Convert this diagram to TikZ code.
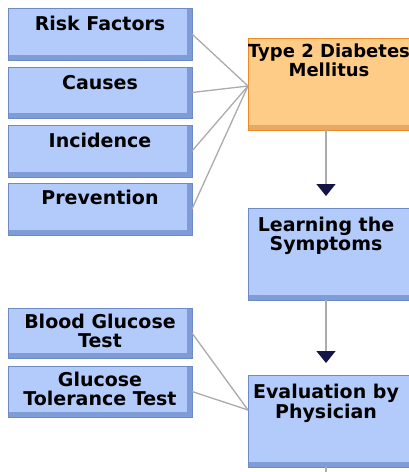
\documentclass[tikz,border=0pt]{standalone}
\usepackage{fontspec}
\setmainfont{DejaVu Sans}
\usetikzlibrary{arrows.meta}

\definecolor{boxfill}{HTML}{B3CBFB}
\definecolor{boxbevel}{HTML}{809CD6}
\definecolor{boxedge}{HTML}{6C8AC6}
\definecolor{topicfill}{HTML}{FFCC88}
\definecolor{topicbevel}{HTML}{E6A866}
\definecolor{topicedge}{HTML}{EE8A22}
\definecolor{linkgray}{HTML}{ABABAB}
\definecolor{tipnavy}{HTML}{141446}

\tikzset{
  card/.style={rectangle, anchor=north west, inner sep=0pt, outer sep=0pt,
    line width=1pt, minimum width=#1},
  card/.default=184pt,
  bluecard/.style={card=#1, fill=boxfill, draw=boxedge,
    path picture={
      \fill[boxbevel] ([yshift=5pt]path picture bounding box.south west)
        rectangle (path picture bounding box.south east);
      \fill[boxbevel] ([xshift=-5pt]path picture bounding box.north east)
        rectangle (path picture bounding box.south east);
    }},
  bluecard/.default=184pt,
  topiccard/.style={card=#1, fill=topicfill, draw=topicedge,
    path picture={
      \fill[topicbevel] ([yshift=5pt]path picture bounding box.south west)
        rectangle (path picture bounding box.south east);
    }},
  label text/.style={anchor=north, inner sep=0pt, align=center,
    font=\fontsize{19}{18.5}\selectfont\bfseries},
  link/.style={draw=linkgray, line width=1.3pt},
  flow/.style={draw=linkgray, line width=1.5pt,
    -{Triangle[width=19pt,length=12pt,color=tipnavy]}, shorten >=12pt},
}

\begin{document}
\begin{tikzpicture}[x=1pt,y=-1pt]
\useasboundingbox (0,0) rectangle (409,472);
\clip (0,0) rectangle (409,472);
\fill[white] (0,0) rectangle (409,472);

% left column: background topics
\node[bluecard, minimum height=52pt] (risk) at (8,8) {};
\node[bluecard, minimum height=51pt] (causes) at (8,67) {};
\node[bluecard, minimum height=52pt] (incid) at (8,125) {};
\node[bluecard, minimum height=52pt] (prev) at (8,183) {};
\node[label text] (risk-t) at ([yshift=-8pt]risk.north) {Risk Factors};
\node[label text] (causes-t) at ([yshift=-8pt]causes.north) {Causes};
\node[label text] (incid-t) at ([yshift=-8pt]incid.north) {Incidence};
\node[label text] (prev-t) at ([yshift=-7pt]prev.north) {Prevention};

% left column: tests
\node[bluecard, minimum height=50pt] (bgt) at (8,308) {};
\node[bluecard, minimum height=51pt] (gtt) at (8,366) {};
\node[label text] (bgt-t) at ([yshift=-6pt]bgt.north) {Blood Glucose\\Test};
\node[label text] (gtt-t) at ([yshift=-6pt]gtt.north) {Glucose\\Tolerance Test};

% right column: main sequence
\node[topiccard=180pt, minimum height=92pt] (t2dm) at (248,38) {};
\node[bluecard=180pt, minimum height=92pt] (learn) at (248,208) {};
\node[bluecard=180pt, minimum height=92pt] (eval) at (248,375) {};
\node[label text, font=\fontsize{18}{18.5}\selectfont\bfseries] (t2dm-t)
  at ([xshift=-9pt,yshift=-6pt]t2dm.north) {Type 2 Diabetes\\Mellitus};
\node[label text] (learn-t) at ([xshift=-12pt,yshift=-9pt]learn.north) {Learning the\\Symptoms};
\node[label text] (eval-t) at ([xshift=-12pt,yshift=-9pt]eval.north) {Evaluation by\\Physician};

% links into the main topic
\foreach \n in {risk,causes,incid,prev}
  \draw[link] (\n.east) -- ([yshift=-2pt]t2dm.west);
\foreach \n in {bgt,gtt}
  \draw[link] (\n.east) -- ([yshift=11pt]eval.west);

% flow arrows
\draw[flow] ([xshift=-12pt]t2dm.south) -- ([xshift=-12pt]learn.north);
\draw[flow] ([xshift=-12pt]learn.south) -- ([xshift=-12pt]eval.north);
\coordinate (next) at (326,490);
\draw[link, line width=1.5pt] ([xshift=-12pt]eval.south) -- (next);
\end{tikzpicture}
\end{document}
